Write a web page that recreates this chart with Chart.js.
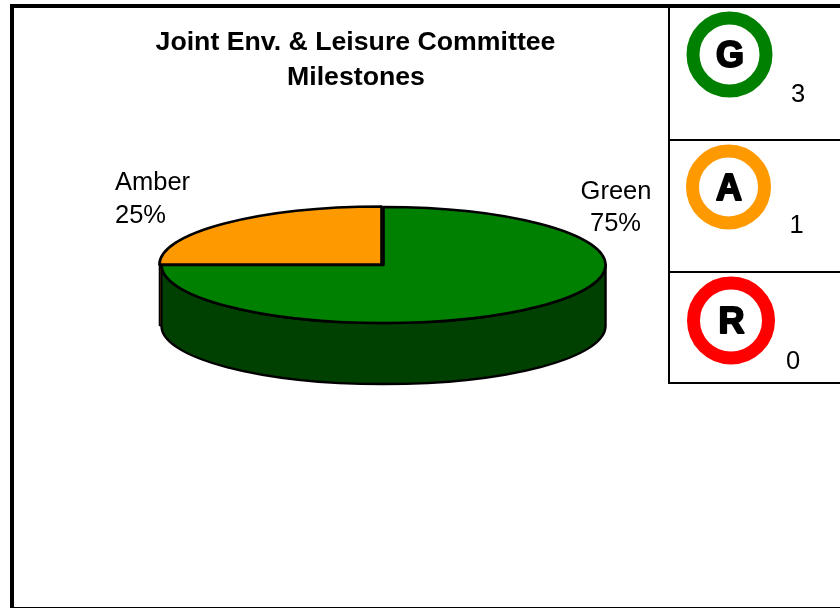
<!DOCTYPE html>
<html>
<head>
<meta charset="utf-8">
<style>html,body{margin:0;padding:0;background:#fff;overflow:hidden}canvas{display:block}</style>
<script src="https://cdn.jsdelivr.net/npm/chart.js@4"></script>
</head>
<body>
<canvas id="c" width="840" height="608"></canvas>
<script>
const titleLines = ['Joint Env. & Leisure Committee', 'Milestones'];
const pieLabels = ['Green', 'Amber'];
const pieValues = [3, 1];
const pieColors = ['#008000', '#FF9900'];
const wallColors = ['#004000', '#804C00'];
const pieOffsets = [0, 2.83];
const statusLetters = ['G', 'A', 'R'];
const statusCounts = [3, 1, 0];
const statusColors = ['#008000', '#FF9900', '#FF0000'];

const TILT = 58 / 222, DEPTH = 61;
const FONT = '"Liberation Sans", Arial, sans-serif';

function center(arc) {
  const off = arc.options.offset || 0;
  const mid = (arc.startAngle + arc.endAngle) / 2;
  return { x: arc.x + Math.cos(mid) * off, y: arc.y + Math.sin(mid) * off * TILT };
}

const pie3d = {
  id: 'pie3d',
  beforeDatasetDraw(chart, args) {
    const ctx = chart.ctx, arcs = args.meta.data;
    ctx.save();
    ctx.lineJoin = 'round';
    ctx.strokeStyle = '#000';
    for (let i = arcs.length - 1; i >= 0; i--) {
      const a = arcs[i], c = center(a), r = a.outerRadius, ry = r * TILT;
      ctx.lineWidth = 1.4;
      [a.startAngle, a.endAngle].forEach(t => {
        ctx.beginPath();
        ctx.moveTo(c.x, c.y);
        ctx.lineTo(c.x + Math.cos(t) * r, c.y + Math.sin(t) * ry);
        ctx.lineTo(c.x + Math.cos(t) * r, c.y + Math.sin(t) * ry + DEPTH);
        ctx.lineTo(c.x, c.y + DEPTH);
        ctx.closePath();
        ctx.fillStyle = i === 1 ? pieColors[i] : wallColors[i];
        ctx.fill();
        ctx.stroke();
      });
      const s = Math.max(a.startAngle, 0), e = Math.min(a.endAngle, Math.PI);
      if (e > s) {
        ctx.lineWidth = 2.3;
        ctx.beginPath();
        ctx.ellipse(c.x, c.y, r, ry, 0, s, e);
        ctx.ellipse(c.x, c.y + DEPTH, r, ry, 0, e, s, true);
        ctx.closePath();
        ctx.fillStyle = wallColors[i];
        ctx.fill();
        ctx.stroke();
      }
    }
    ctx.lineWidth = 2.6;
    arcs.forEach((a, i) => {
      const c = center(a), r = a.outerRadius;
      ctx.beginPath();
      ctx.moveTo(c.x, c.y);
      ctx.ellipse(c.x, c.y, r, r * TILT, 0, a.startAngle, a.endAngle);
      ctx.closePath();
      ctx.fillStyle = a.options.backgroundColor;
      ctx.fill();
      ctx.stroke();
    });
    ctx.restore();
    return false;
  },
  afterDraw(chart) {
    const ctx = chart.ctx;
    ctx.save();
    ctx.fillStyle = '#000';
    ctx.fillRect(10, 4, 4, 604);
    ctx.fillRect(10, 4, 830, 4);
    ctx.fillRect(10, 607, 830, 1);
    ctx.fillRect(668, 4, 2, 380);
    ctx.fillRect(668, 139, 172, 2);
    ctx.fillRect(668, 271, 172, 2);
    ctx.fillRect(668, 382, 172, 2);
    ctx.textAlign = 'center';
    ctx.textBaseline = 'middle';
    ctx.font = 'bold 26.7px ' + FONT;
    ctx.fillText(titleLines[0], 355.5, 43);
    ctx.fillText(titleLines[1], 356, 78);
    const total = pieValues.reduce((p, v) => p + v, 0);
    const pct = i => Math.round(pieValues[i] / total * 100) + '%';
    ctx.font = '25.5px ' + FONT;
    ctx.fillText(pieLabels[0], 616, 192);
    ctx.fillText(pct(0), 615.5, 224);
    ctx.textAlign = 'left';
    ctx.fillText(pieLabels[1], 115, 183);
    ctx.fillText(pct(1), 115, 216);
    const rx = [729.5, 728.5, 731], ry = [54.5, 187, 320.5], rr = [43, 42.5, 44];
    const nx = [798, 796.5, 793], ny = [94.5, 226, 362];
    statusLetters.forEach((l, i) => {
      ctx.beginPath();
      ctx.arc(rx[i], ry[i], rr[i] - 6.5, 0, Math.PI * 2);
      ctx.lineWidth = 13;
      ctx.strokeStyle = statusColors[i];
      ctx.stroke();
      ctx.textAlign = 'center';
      ctx.font = 'bold 36px ' + FONT;
      ctx.lineWidth = 2;
      ctx.strokeStyle = '#000';
      ctx.lineJoin = 'round';
      ctx.fillStyle = '#000';
      ctx.fillText(l, rx[i] + 0.5, ry[i] + 3);
      ctx.strokeText(l, rx[i] + 0.5, ry[i] + 3);
      ctx.font = '25.5px ' + FONT;
      ctx.fillText(String(statusCounts[i]), nx[i], ny[i]);
    });
    ctx.restore();
  }
};

new Chart(document.getElementById('c'), {
  type: 'pie',
  data: {
    labels: pieLabels,
    datasets: [{ data: pieValues, backgroundColor: pieColors, offset: pieOffsets, borderColor: '#000', borderWidth: 2 }]
  },
  options: {
    responsive: false,
    animation: false,
    events: [],
    layout: { padding: { left: 159, right: 232, top: 40.5, bottom: 118.5 } },
    plugins: { legend: { display: false }, tooltip: { enabled: false }, title: { display: false } }
  },
  plugins: [pie3d]
});
</script>
</body>
</html>
